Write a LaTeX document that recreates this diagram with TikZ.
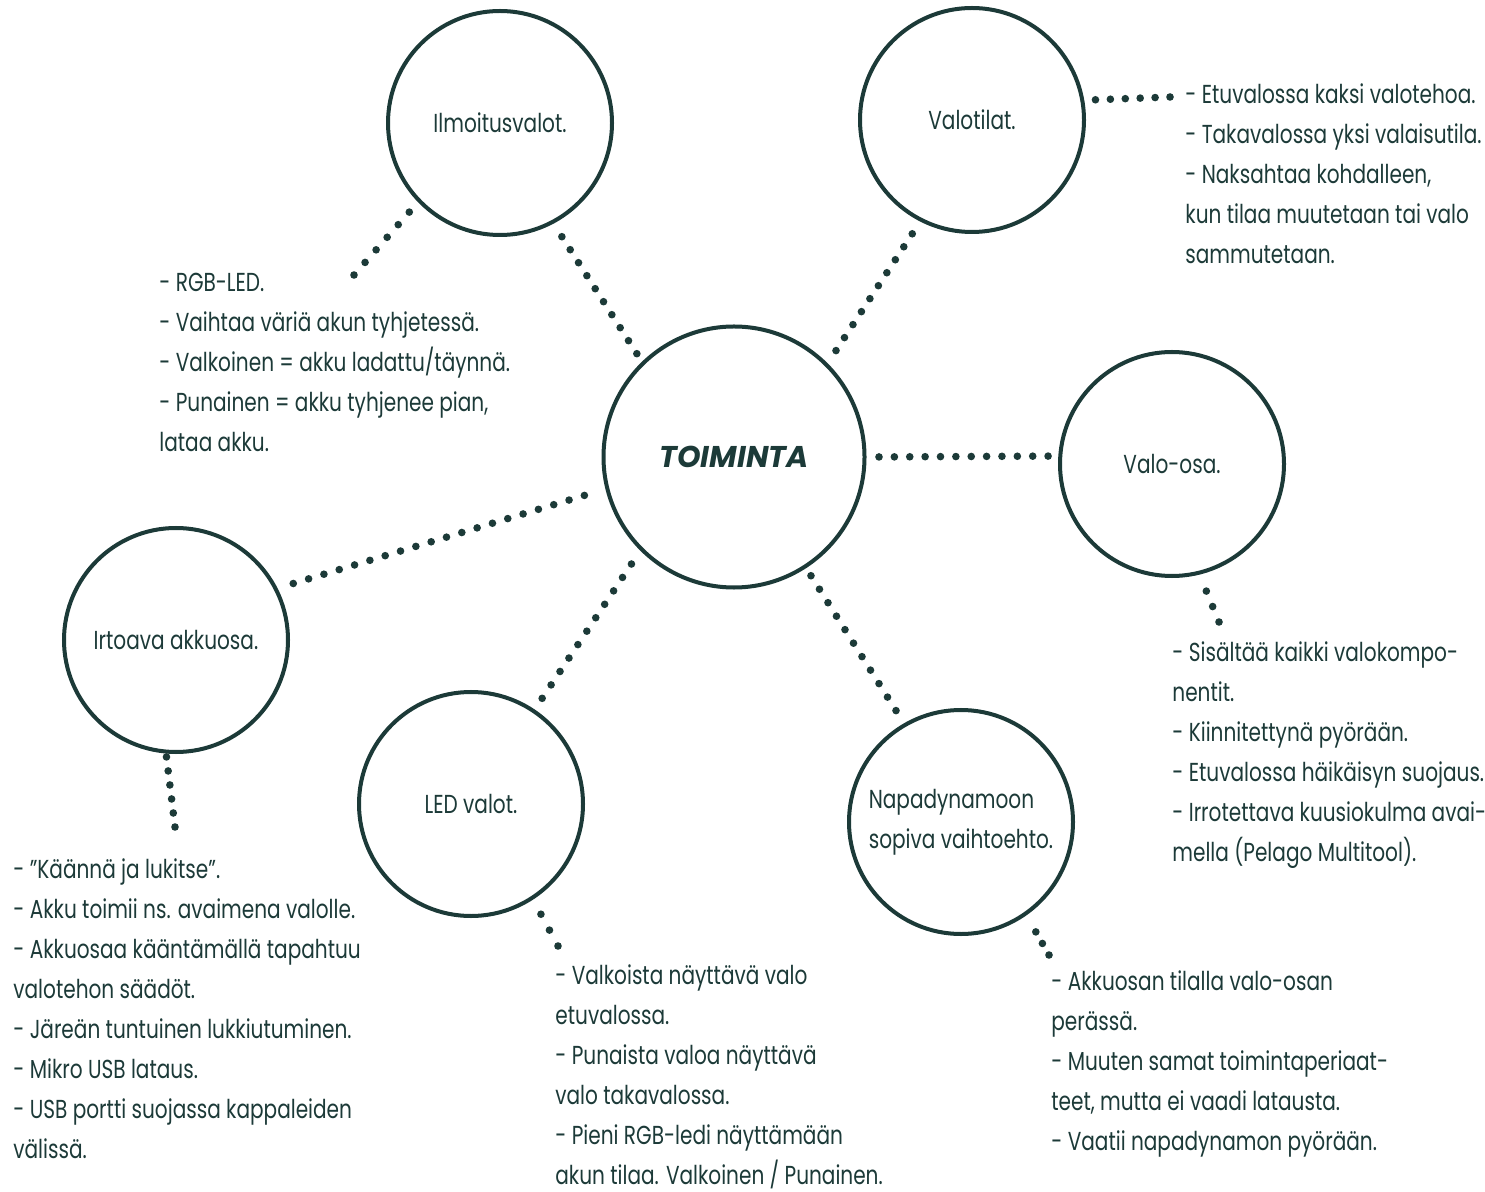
\documentclass[tikz,border=0pt]{standalone}
\usepackage{fontspec}
\setmainfont{Poppins}[FakeStretch=0.772]
\newfontfamily\hubfont{Poppins}
\usetikzlibrary{calc}
\definecolor{ink}{RGB}{28,58,56}
\newcommand\lead{\rule{0pt}{10bp}}
% dotted connector: from, to, gap at start, gap at end, number of intervals
\newcommand\dotsline[5]{%
  \coordinate (dA) at ($(#1)!#3!(#2)$);
  \coordinate (dB) at ($(#2)!#4!(#1)$);
  \foreach \k in {0,...,#5} \fill[ink] ($(dA)!\k/#5!(dB)$) circle (1.9bp);}
\begin{document}
\begin{tikzpicture}[x=0.5bp,y=-0.5bp,
  every node/.style={text=ink},
  bub/.style={circle,draw=ink,line width=2bp,minimum size=112bp,inner sep=0pt,align=center,font=\fontsize{13bp}{20bp}\selectfont},
  hub/.style={circle,draw=ink,line width=2bp,minimum size=130.5bp,inner sep=0pt,font=\hubfont\fontsize{15bp}{18bp}\selectfont\bfseries\itshape},
  txt/.style={anchor=north west,inner sep=0pt,align=left,font=\fontsize{13bp}{20bp}\selectfont}]
\useasboundingbox (0,0) rectangle (1485,1192);
\fill[white] (0,0) rectangle (1485,1192);

\node[hub] (ctr) at (734,457) {TOIMINTA};
\node[bub] (ilm) at (500,123) {Ilmoitusvalot.};
\node[bub] (vt) at (972,120) {Valotilat.};
\node[bub] (vo) at (1172,464) {Valo-osa.};
\node[bub] (irt) at (176,640) {Irtoava akkuosa.};
\node[bub] (led) at (471,804) {LED valot.};
\node[bub,align=left] (nap) at (961,822) {Napadynamoon\\sopiva vaihtoehto.};

\node[txt] (tvt) at (1185,83) {\lead- Etuvalossa kaksi valotehoa.\\- Takavalossa yksi valaisutila.\\- Naksahtaa kohdalleen,\\kun tilaa muutetaan tai valo\\sammutetaan.};
\node[txt] (tilm) at (159,271) {\lead- RGB-LED.\\- Vaihtaa väriä akun tyhjetessä.\\- Valkoinen = akku ladattu/täynnä.\\- Punainen = akku tyhjenee pian,\\lataa akku.};
\node[txt] (tirt) at (13,858) {\lead- ”Käännä ja lukitse”.\\- Akku toimii ns. avaimena valolle.\\- Akkuosaa kääntämällä tapahtuu\\valotehon säädöt.\\- Järeän tuntuinen lukkiutuminen.\\- Mikro USB lataus.\\- USB portti suojassa kappaleiden\\välissä.};
\node[txt] (tled) at (555,964) {\lead- Valkoista näyttävä valo\\etuvalossa.\\- Punaista valoa näyttävä\\valo takavalossa.\\- Pieni RGB-ledi näyttämään\\akun tilaa. Valkoinen / Punainen.};
\node[txt] (tnap) at (1051,970) {\lead- Akkuosan tilalla valo-osan\\perässä.\\- Muuten samat toimintaperiaat-\\teet, mutta ei vaadi latausta.\\- Vaatii napadynamon pyörään.};
\node[txt] (tvo) at (1172,641) {\lead- Sisältää kaikki valokompo-\\nentit.\\- Kiinnitettynä pyörään.\\- Etuvalossa häikäisyn suojaus.\\- Irrotettava kuusiokulma avai-\\mella (Pelago Multitool).};

\coordinate (e7) at (354,275);
\coordinate (e8) at (1170,97);
\coordinate (e9) at (1219,622);
\coordinate (e10) at (175,827);
\coordinate (e11) at (558,946);
\coordinate (e12) at (1049,955);

\dotsline{ctr.134.4}{ilm.-62.4}{4.75bp}{7.75bp}{9}
\dotsline{ctr.45.6}{vt.-117.8}{7.6bp}{7.3bp}{9}
\dotsline{ctr.0}{vo.176.7}{6.25bp}{5.1bp}{11}
\dotsline{ctr.194}{irt.27.4}{11bp}{8.2bp}{19}
\dotsline{ctr.225.3}{led.56}{8bp}{6.7bp}{10}
\dotsline{ctr.-57}{nap.120.8}{4.5bp}{7.5bp}{10}
\dotsline{ilm.224.7}{e7}{6.6bp}{0bp}{5}
\dotsline{vt.10.8}{e8}{5.6bp}{0bp}{5}
\dotsline{vo.-76.2}{e9}{8.9bp}{0bp}{2}
\dotsline{irt.-95}{e10}{1.7bp}{0bp}{5}
\dotsline{led.-57}{e11}{8.3bp}{0bp}{2}
\dotsline{nap.-55.6}{e12}{9.5bp}{0bp}{2}
\end{tikzpicture}
\end{document}
